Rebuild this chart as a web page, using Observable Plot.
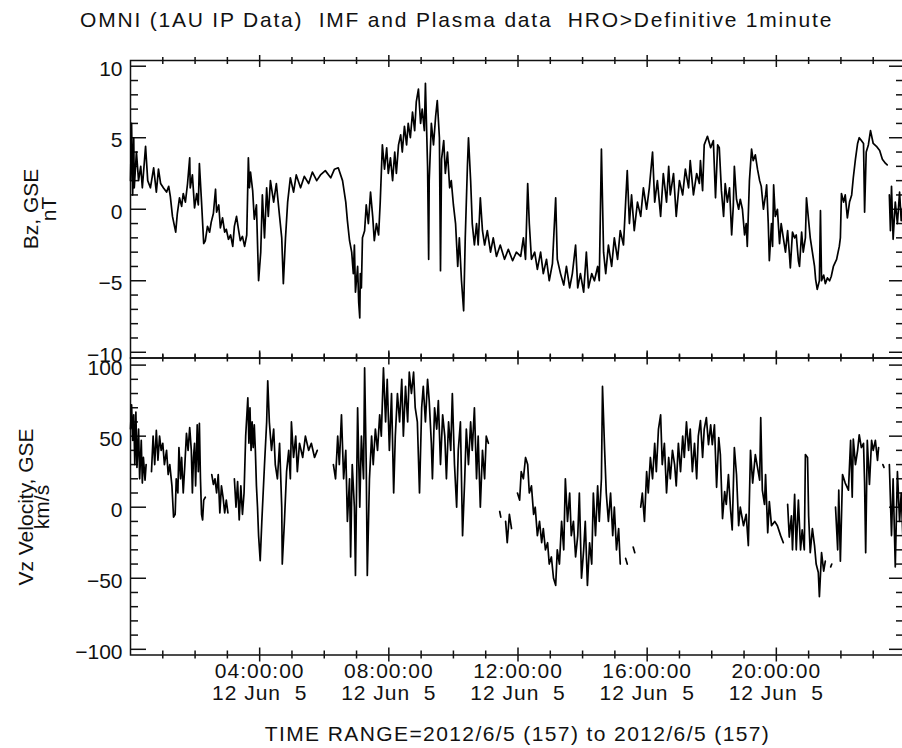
<!DOCTYPE html>
<html>
<head>
<meta charset="utf-8">
<script src="https://cdn.jsdelivr.net/npm/d3@7"></script>
<script src="https://cdn.jsdelivr.net/npm/@observablehq/plot@0.6"></script>
<style>
html, body { margin: 0; padding: 0; background: #fff; overflow: hidden; }
#wrap { position: relative; width: 902px; height: 748px; overflow: hidden; background: #fff;
  font-family: "Liberation Sans", "DejaVu Sans", Arial, sans-serif; color: #111; }
#wrap svg { position: absolute; left: 0; top: 0; }
.txt { position: absolute; white-space: pre; font-size: 21px; line-height: 21px; }
.ylab { position: absolute; white-space: nowrap; font-size: 21px; text-align: center;
  transform: translate(-50%, -50%) rotate(-90deg); }
</style>
</head>
<body>
<div id="wrap">
  <div class="txt" id="title" style="left:80px; top:9px; letter-spacing:1.8px;">OMNI (1AU IP Data)  IMF and Plasma data  HRO&gt;Definitive 1minute</div>
  <div class="ylab" style="left:39.5px; top:209px; line-height:18px;">Bz, GSE<br>nT</div>
  <div class="ylab" style="left:33px; top:507px; line-height:15.5px;">Vz Velocity, GSE<br>km/s</div>
  <div class="txt" id="range" style="left:517.5px; top:723px; letter-spacing:1.4px; transform:translateX(-50%);">TIME RANGE=2012/6/5 (157) to 2012/6/5 (157)</div>
</div>
<script>
// ---------------- data (minute of day 2012-06-05, value) ----------------
const bzSamples = [
 [0,2],[2,6],[4,1],[6,5],[7,1.5],[11,4],[15,2],[19,3],[22,1.5],[28,4.4],[32,2],[37,1.5],[43,2.9],[48,1.2],[52,2.8],[56,1.8],
 [61,1.5],[67,1.2],[71,1.6],[74,0.9],[78,-0.5],[84,-1.6],[87,-0.3],[91,0.8],[95,0.2],[98,1.1],[102,0.5],[106,1.8],[110,3.6],
 [111,1.5],[115,2.4],[119,0.1],[123,1.1],[126,0.3],[128,3.2],[132,0.5],[136,-2.4],[139,-2.2],[143,-1.2],[147,-1.6],[150,-0.9],
 [154,-0.3],[158,1.4],[160,-0.2],[164,0.3],[167,-1.3],[171,-0.6],[175,-1.6],[178,-1.4],[182,-2.1],[186,-1.8],[190,-2.6],
 [193,-1.2],[197,-0.5],[201,-1.5],[204,-2.2],[208,-1.9],[212,-2.6],[216,-1.8],[219,3.6],[221,1.5],[223,2.6],[227,1.3],
 [230,-0.7],[234,0.3],[238,-5],[242,-3],
 [245,1],[249,-2],[253,1.5],[256,-0.5],[260,2],[266,0.5],[271,1.8],[277,-0.5],[281,-2],[284,-5.2],[288,-2],[292,0.5],
 [297,2.2],[303,1.2],[308,2.4],[316,1.5],[323,2.3],[331,1.8],[338,2.6],[346,2.0],[353,2.4],[362,2.7],[372,2.2],[379,2.8],
 [386,2.9],[394,2.0],[400,0.5],[403,-0.8],[407,-2.2],[411,-3.0],[414,-4.5],[416,-2.5],[418,-5.8],[422,-4],[424,-6.5],
 [426,-7.6],[427,-4.5],[429,-5.5],[431,-2],[435,-1.5],[438,0.3],[442,-1.0],[446,1.2],[450,-0.5],[453,-2.2],[457,-1.0],
 [461,-1.8],[464,0.5],[468,4.5],[472,2.8],[476,4.3],[479,2.5],[483,3.6],[487,2.0],[491,4.0],[494,2.5],[498,4.5],[502,5.2],
 [505,4.0],[509,5.8],[513,4.5],[516,6.0],[520,5.0],[524,6.8],[528,5.5],[531,7.5],[535,8.4],[539,6.0],[542,7.0],[546,5.5],
 [548,8.8],[552,3.0],[554,-3.5],[555,2.0],[559,6.0],[563,4.5],[567,6.5],[570,7.6],[574,5.0],[576,-4.3],[578,3.5],[582,4.8],
 [585,2.5],[589,4.0],[593,1.5],[596,2.0],[600,0.3],[604,-1.0],[608,-4.0],[611,-2.0],[615,-5.0],[619,-7.1],[622,-2.0],
 [626,3.0],[628,5.0],[632,2.0],[635,-1.0],[639,-2.5],[643,-1.0],[646,-2.5],[650,0.8],[654,-1.5],[658,-2.5],[663,-1.5],
 [669,-3.0],[674,-2.0],[680,-3.3],[687,-2.5],[695,-3.5],[702,-2.8],[710,-3.6],[717,-3.0],[725,-3.3],[730,-2.0],[734,-3.5],
 [738,1.8],[741,-1.0],[745,-3.5],[751,-3.0],[756,-4.2],[762,-3.0],[767,-4.5],[773,-3.5],[778,-5.0],[784,-3.8],[790,0.8],
 [793,-3.5],[799,-4.5],[805,-5.3],[810,-4.0],[816,-5.5],[821,-4.5],[827,-2.5],[831,-5.5],[836,-4.5],[842,-5.8],[847,-3.0],
 [851,-5.5],[857,-4.5],[862,-5.0],[868,-4.0],[871,-5.0],[875,4.2],[879,-3.0],[883,-4.5],[888,-2.5],[894,-4.0],[899,-2.0],
 [905,-3.5],[910,-1.5],[916,-2.5],[920,0.5],[923,2.7],[927,-1.0],[931,1.0],[936,-1.5],[942,0.5],[948,-0.5],[953,1.5],
 [959,0.0],[964,1.5],[970,4.0],[974,0.5],[979,2.0],[985,-0.5],[990,2.5],[996,0.5],[1000,3.0],[1003,1.0],[1009,2.5],
 [1014,-0.5],[1020,2.0],[1026,1.0],[1031,2.8],[1037,1.5],[1040,3.4],[1046,1.0],[1052,2.5],[1057,1.8],
 [1059,3.4],[1063,1.3],[1066,4.5],[1072,5.1],[1078,4.3],[1083,4.8],[1087,0.8],[1091,4.5],[1094,4.3],[1098,1.3],[1102,-0.5],
 [1105,1.8],[1109,0.5],[1113,1.5],[1117,-1.8],[1120,0.2],[1122,3.0],[1126,0.7],[1130,0.0],[1133,0.7],[1137,0.0],[1141,-1.8],
 [1144,-1.0],[1146,-2.6],[1150,2.0],[1154,4.2],[1157,3.4],[1161,3.8],[1165,2.8],[1169,2.0],[1172,1.6],[1176,0.0],[1180,1.0],
 [1182,1.7],[1185,-1.0],[1187,-3.6],[1191,-1.0],[1193,-2.6],[1195,1.7],[1198,-0.5],[1202,0.0],[1206,-2.4],[1209,-1.0],
 [1213,-2.0],[1217,-3.0],[1221,-1.5],[1224,-3.0],[1226,-4.1],[1230,-1.6],[1234,-2.0],[1237,-1.8],[1241,-3.6],[1243,-4.0],
 [1247,-1.6],[1250,-3.0],[1254,-2.0],[1256,0.8],[1260,-0.8],[1263,-2.0],[1267,-3.0],[1271,-4.0],[1273,-4.9],[1276,-5.6],
 [1280,-5.0],[1282,-0.1],[1284,-5.0],[1288,-4.6],[1291,-5.2],[1295,-4.8],[1299,-5.0],[1302,-4.7],[1306,-4.0],[1312,-3.5],
 [1317,-2.6],[1319,-2.0],[1321,1.1],[1325,0.5],[1328,1.0],[1332,-0.6],[1336,0.5],[1340,1.0],[1343,2.2],[1347,3.5],
 [1351,4.6],[1354,5.0],[1358,4.8],[1362,4.6],[1364,-0.2],[1367,4.0],[1371,4.5],[1375,5.5],[1380,4.6],[1386,4.4],
 [1392,4.1],[1397,3.5],[1403,3.2],[1406,3.1],[1408,null],[1410,1.0],[1412,-1.5],[1414,1.6],[1417,-2.1],[1421,0.5],
 [1425,-1.0],[1429,1.2],[1432,-0.8],[1436,0.5]
];

const vzSamples = [
 [0,55],[2,72],[4,47],[6,65],[8,30],[10,67],[12,28],[15,55],[17,20],[20,47],[22,17],[24,35],[27,19],[29,30],[35,null],
 [39,25],[42,50],[45,30],[48,54],[51,33],[54,50],[57,40],[60,45],[63,30],[67,40],[70,23],[73,30],[77,15],[80,-7],[83,-5],
 [85,20],[88,10],[90,42],[93,20],[95,35],[98,10],[101,30],[104,52],[107,40],[110,56],[113,40],[115,10],[117,35],[119,45],
 [121,15],[124,58],[126,25],[128,59],[130,20],[132,-5],[134,-9],[136,5],[139,7],[142,null],[151,23],[154,16],[157,20],
 [160,10],[163,23],[166,-4],[169,15],[172,7],[175,-4],[178,5],[181,-4],[183,null],[193,20],[196,0],[199,18],[202,-9],
 [205,15],[208,-5],[211,10],[214,50],[218,77],[220,45],[222,70],[224,40],[226,60],[228,42],[230,58],[232,40],[234,15],
 [236,0],[238,-20],[241,-37.6],[244,-10],[249,30],[253,60],[255,89],[258,60],[262,40],[266,55],[269,30],[273,20],[277,45],
 [281,0],[282,-40],[286,-10],[290,25],[294,40],[297,20],[299,60],[303,35],[307,50],[310,25],[314,45],[320,35],[325,50],
 [331,40],[336,45],[342,35],[347,40],[351,null],[377,30],[381,20],[385,50],[388,30],[392,65],[396,20],[400,40],[403,-10],
 [407,20],[409,-35],[412,30],[416,0],[418,-48],[422,70],[426,0],[429,50],[433,20],[435,98],[438,30],[440,-48],[444,20],
 [448,50],[451,30],[455,55],[459,40],[463,65],[466,50],[470,98],[474,60],[477,90],[481,40],[485,80],[489,10],[492,50],
 [496,80],[500,60],[504,90],[507,50],[511,85],[515,60],[518,95],[522,80],[526,95],[529,70],[533,60],[537,10],[541,70],
 [544,85],[548,60],[552,90],[555,75],[559,45],[561,20],[565,70],[569,55],[572,75],[576,30],[580,65],[584,50],[587,20],
 [591,60],[595,40],[598,80],[602,30],[606,0],[609,40],[613,60],[617,-20],[621,20],[624,55],[628,30],[632,60],[635,40],
 [639,70],[643,20],[646,50],[650,0],[654,40],[658,20],[661,50],[665,45],[669,null],[686,-3],[688,-7],[691,null],[697,-10],
 [700,-25],[704,-5],[708,-15],[712,null],[719,10],[723,5],[726,25],[730,20],[734,35],[738,30],[741,10],[745,15],[749,-5],
 [752,0],[756,-20],[760,-10],[764,-25],[767,-15],[771,-30],[775,-25],[778,-40],[782,-35],[786,-50],[790,-55],[793,-30],
 [797,-40],[801,-10],[805,-30],[808,20],[812,-10],[816,10],[819,-20],[823,-10],[827,-35],[831,-20],[834,10],[838,-50],
 [842,-30],[845,-10],[849,-55],[853,-25],[857,-40],[860,10],[864,-20],[868,15],[871,-10],[875,20],[877,85],[881,40],
 [884,10],[888,-10],[892,10],[896,-20],[899,0],[903,-30],[907,-15],[910,-40],[914,null],[920,-36],[923,-40],[926,null],
 [934,-28],[937,-32],[940,null],[948,0],[951,10],[955,-10],[959,25],[962,10],[966,35],[970,20],[974,45],[977,25],[981,55],
 [985,65],[988,30],[992,45],[996,10],[1000,35],[1003,20],[1007,40],[1011,30],[1014,15],[1018,45],[1022,25],[1026,50],
 [1029,35],[1033,60],[1037,40],[1040,55],[1044,25],[1048,45],[1052,20],[1055,50],
 [1059,61],[1063,35],[1066,55],[1070,63],[1074,44],[1078,58],[1081,44],[1085,58],[1089,14],[1093,49],[1096,37],[1100,-8],
 [1104,11],[1107,2],[1111,23],[1115,-2],[1118,-16],[1122,42],[1126,23],[1130,-13],[1133,0],[1139,-13],[1144,-5],[1148,-27],
 [1152,40],[1156,17],[1161,37],[1165,28],[1169,19],[1171,63],[1174,12],[1178,2],[1180,23],[1184,-18],[1187,4],[1191,-13],
 [1197,-10],[1202,-13],[1208,-20],[1213,-25],[1217,null],[1221,2],[1224,-21],[1228,-6],[1230,-30],[1234,9],[1237,-30],
 [1241,5],[1245,-30],[1248,-16],[1252,-30],[1254,37],[1258,35],[1260,-6],[1263,-32],[1267,-15],[1271,-27],[1274,-40],
 [1278,-46],[1280,-63],[1284,-32],[1288,-45],[1291,-38],[1295,null],[1301,-42],[1303,-40],[1306,null],[1310,0],[1314,-30],
 [1316,12],[1319,-38],[1323,23],[1328,17],[1334,12],[1338,47],[1341,7],[1343,48],[1347,30],[1351,40],[1354,51],[1358,42],
 [1362,45],[1364,17],[1366,-32],[1369,47],[1373,16],[1377,47],[1380,40],[1384,47],[1388,33],[1390,42],[1393,null],
 [1398,30],[1400,28],[1402,null],[1410,30],[1414,-20],[1417,20],[1421,-42],[1425,25],[1429,-10],[1432,10],[1436,-30]
];

const bzTicksMajor = [-10, -5, 0, 5, 10];
const bzTicksMinor = [-9, -8, -7, -6, -4, -3, -2, -1, 1, 2, 3, 4, 6, 7, 8, 9];
const vzTicksMajor = [-100, -50, 0, 50, 100];
const vzTicksMinor = [-90, -80, -70, -60, -40, -30, -20, -10, 10, 20, 30, 40, 60, 70, 80, 90];
const hourTicksMajor = [240, 480, 720, 960, 1200];
const hourTicksMinor = [60, 120, 180, 300, 360, 420, 540, 600, 660, 780, 840, 900, 1020, 1080, 1140, 1260, 1320, 1380];
const xTickLabels = ["04:00:00\n12 Jun\u00a0\u00a05", "08:00:00\n12 Jun\u00a0\u00a05", "12:00:00\n12 Jun\u00a0\u00a05",
                     "16:00:00\n12 Jun\u00a0\u00a05", "20:00:00\n12 Jun\u00a0\u00a05"];

// ---------------- layout ----------------
const W = 905, H = 748, ML = 130, FW = W - ML;
const INK = "#111";
const bz = bzSamples.map(([minute, value]) => ({minute, value}));
const vz = vzSamples.map(([minute, value]) => ({minute, value}));

function panel({data, domain, major, minor, top, bottom, xLabels}) {
  const fh = bottom - top;
  const marks = [
    Plot.frame({stroke: INK, strokeWidth: 1.5}),
    Plot.tickY(major, {y: d => d, insetRight: FW - 16, stroke: INK, strokeWidth: 1.5}),
    Plot.tickY(minor, {y: d => d, insetRight: FW - 8, stroke: INK, strokeWidth: 1.5}),
    Plot.tickY(major, {y: d => d, insetLeft: FW - 16, stroke: INK, strokeWidth: 1.5}),
    Plot.tickY(minor, {y: d => d, insetLeft: FW - 9, stroke: INK, strokeWidth: 1.5}),
    Plot.tickX(hourTicksMajor, {x: d => d, insetBottom: fh - 7, stroke: INK, strokeWidth: 1.5}),
    Plot.tickX(hourTicksMinor, {x: d => d, insetBottom: fh - 4, stroke: INK, strokeWidth: 1.5}),
    Plot.tickX(hourTicksMajor, {x: d => d, insetTop: fh - 7, stroke: INK, strokeWidth: 1.5}),
    Plot.tickX(hourTicksMinor, {x: d => d, insetTop: fh - 4, stroke: INK, strokeWidth: 1.5}),
    Plot.axisX({anchor: "top", ticks: hourTicksMajor, tickSize: 6, tickFormat: () => "", strokeWidth: 1.5, label: null}),
    Plot.axisX({anchor: "top", ticks: hourTicksMinor, tickSize: 4, tickFormat: () => "", strokeWidth: 1.5, label: null}),
    Plot.axisY({anchor: "left", ticks: major, tickSize: 0, tickPadding: 8, dy: 3, label: null}),
    Plot.line(data, {x: d => d.minute, y: d => d.value, stroke: "#000", strokeWidth: 1.7})
  ];
  if (xLabels) {
    marks.push(
      Plot.axisX({anchor: "bottom", ticks: hourTicksMajor, tickSize: 7, tickPadding: 0.5, strokeWidth: 1.5,
        lineHeight: 1.05, label: null, tickFormat: d => xLabels[hourTicksMajor.indexOf(d)]}),
      Plot.axisX({anchor: "bottom", ticks: hourTicksMinor, tickSize: 4, tickFormat: () => "", strokeWidth: 1.5, label: null})
    );
  }
  return Plot.plot({
    width: W, height: H,
    marginLeft: ML, marginRight: 0, marginTop: top, marginBottom: H - bottom,
    x: {domain: [0, 1440], label: null},
    y: {domain, label: null},
    style: {background: "transparent", overflow: "visible", maxWidth: "none",
            fontFamily: '"Liberation Sans", "DejaVu Sans", Arial, sans-serif', fontSize: "21px", color: INK},
    marks
  });
}

const wrap = document.getElementById("wrap");
const topPanel = panel({data: bz, domain: [-10.4, 10.4], major: bzTicksMajor, minor: bzTicksMinor, top: 60, bottom: 357.5});
const botPanel = panel({data: vz, domain: [-104, 105], major: vzTicksMajor, minor: vzTicksMinor, top: 357.5, bottom: 654.5, xLabels: xTickLabels});
wrap.appendChild(topPanel);
wrap.appendChild(botPanel);
d3.select(botPanel).selectAll('g[aria-label="x-axis tick label"] text').style("letter-spacing", "1px");
</script>
</body>
</html>
